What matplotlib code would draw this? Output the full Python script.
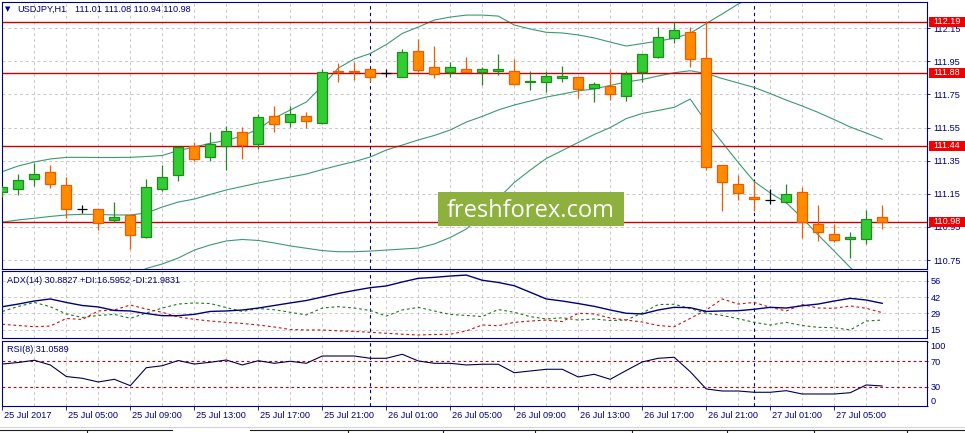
"""USDJPY H1 chart in MetaTrader style: candles + Bollinger, ADX(14) and RSI(8) panes."""
import numpy as np
import matplotlib
matplotlib.use("Agg")
import matplotlib.pyplot as plt
import matplotlib.transforms as mtransforms
from matplotlib.patches import Rectangle
from matplotlib.lines import Line2D

plt.rcParams.update({
    "font.family": "Liberation Sans",
    "font.size": 6.6,
    "axes.linewidth": 0.8,
})

# ------------------------------------------------------------------
# data: hourly bars, 25 Jul 2017 01:00 .. 27 Jul 08:00
# ------------------------------------------------------------------
opens = [111.159, 111.177, 111.237, 111.281, 111.201, 111.056, 111.056, 110.990, 111.020, 110.888,
         111.177, 111.261, 111.440, 111.370, 111.440, 111.521, 111.449, 111.618, 111.581, 111.618,
         111.579, 111.889, 111.890, 111.902, 111.877, 111.857, 112.010, 111.914, 111.883, 111.902,
         111.883, 111.889, 111.891, 111.823, 111.823, 111.851, 111.853, 111.790, 111.801, 111.738,
         111.883, 111.978, 112.092, 112.129, 111.972, 111.322, 111.209, 111.129, 111.112, 111.098,
         111.159, 110.966, 110.905, 110.875, 110.875, 111.010]
highs = [111.197, 111.269, 111.334, 111.324, 111.251, 111.080, 111.058, 111.100, 111.022, 111.239,
         111.324, 111.435, 111.461, 111.523, 111.559, 111.551, 111.632, 111.678, 111.678, 111.642,
         111.903, 111.938, 111.947, 111.905, 111.903, 112.024, 112.085, 112.042, 111.946, 111.976,
         111.915, 111.994, 111.964, 111.891, 111.891, 111.921, 111.855, 111.825, 111.903, 111.889,
         111.994, 112.155, 112.187, 112.155, 112.195, 111.322, 111.265, 111.225, 111.177, 111.209,
         111.189, 111.082, 110.967, 110.919, 111.050, 111.080]
lows = [111.132, 111.143, 111.199, 111.187, 111.005, 111.032, 110.933, 110.979, 110.815, 110.885,
        111.168, 111.229, 111.350, 111.350, 111.293, 111.358, 111.418, 111.525, 111.553, 111.549,
        111.569, 111.823, 111.837, 111.827, 111.853, 111.853, 111.887, 111.851, 111.857, 111.883,
        111.809, 111.869, 111.809, 111.778, 111.764, 111.827, 111.730, 111.706, 111.718, 111.708,
        111.827, 111.972, 112.062, 111.917, 111.295, 111.048, 111.112, 111.048, 111.086, 111.096,
        110.885, 110.867, 110.857, 110.764, 110.845, 110.940]
closes = [111.189, 111.233, 111.269, 111.207, 111.056, 111.056, 110.976, 111.010, 110.899, 111.189,
          111.249, 111.431, 111.358, 111.449, 111.527, 111.443, 111.612, 111.569, 111.630, 111.588,
          111.883, 111.885, 111.885, 111.857, 111.877, 112.004, 111.899, 111.871, 111.914, 111.887,
          111.902, 111.902, 111.811, 111.831, 111.859, 111.859, 111.781, 111.811, 111.751, 111.871,
          111.992, 112.098, 112.141, 111.962, 111.310, 111.219, 111.156, 111.117, 111.112, 111.149,
          110.979, 110.917, 110.869, 110.887, 110.996, 110.980]

bb_upper = [111.284, 111.318, 111.342, 111.360, 111.370, 111.370, 111.369, 111.369, 111.370, 111.375,
            111.381, 111.411, 111.432, 111.455, 111.472, 111.499, 111.541, 111.607, 111.656, 111.704,
            111.801, 111.909, 111.964, 111.997, 112.051, 112.118, 112.157, 112.199, 112.217, 112.229,
            112.229, 112.223, 112.169, 112.145, 112.125, 112.121, 112.109, 112.091, 112.066, 112.042,
            112.057, 112.072, 112.089, 112.119, 112.178, 112.236, 112.296, 112.34, 112.37, 112.39,
            112.40, 112.41, 112.41, 112.40, 112.39, 112.38]
bb_mid = [110.979, 110.992, 111.002, 111.013, 111.022, 111.026, 111.025, 111.022, 111.022, 111.034,
          111.070, 111.100, 111.118, 111.146, 111.173, 111.194, 111.215, 111.233, 111.251, 111.269,
          111.296, 111.321, 111.344, 111.372, 111.414, 111.444, 111.475, 111.502, 111.535, 111.583,
          111.617, 111.656, 111.686, 111.710, 111.734, 111.752, 111.771, 111.783, 111.804, 111.825,
          111.840, 111.861, 111.881, 111.893, 111.876, 111.846, 111.819, 111.792, 111.755, 111.716,
          111.680, 111.641, 111.598, 111.553, 111.517, 111.479]
bb_lower = [np.nan] * 8 + [
            110.653, 110.699, 110.726, 110.762, 110.810, 110.841, 110.865, 110.874, 110.868, 110.853,
            110.835, 110.821, 110.807, 110.800, 110.800, 110.804, 110.810, 110.816, 110.822, 110.847,
            110.886, 110.937, 111.022, 111.121, 111.218, 111.293, 111.363, 111.411, 111.460, 111.508,
            111.550, 111.604, 111.635, 111.653, 111.672, 111.722, 111.583, 111.460, 111.339, 111.224,
            111.155, 111.096, 111.004, 110.901, 110.804, 110.705, 110.611, 110.527]

adx = [34.7, 36.9, 39.4, 41.1, 38.2, 35.7, 34.5, 31.6, 31.2, 29.1,
       27.3, 27.3, 28.4, 30.8, 31.2, 32.0, 33.6, 35.7, 37.8, 39.8,
       42.7, 45.6, 48.1, 50.4, 51.8, 55.1, 58.1, 58.9, 60.0, 60.8,
       56.5, 54.7, 52.0, 46.6, 41.1, 39.4, 37.3, 35.0, 32.0, 29.3,
       28.7, 32.0, 34.2, 33.9, 30.8, 31.2, 31.4, 32.6, 34.2, 33.6,
       35.5, 36.9, 39.4, 41.6, 40.2, 37.5]
plus_di = [30.8, 34.9, 38.2, 34.7, 28.7, 25.8, 27.5, 28.4, 25.1, 29.5,
           33.6, 36.9, 37.8, 37.3, 34.0, 30.8, 33.2, 32.2, 30.1, 27.9,
           33.6, 34.7, 33.6, 31.6, 27.0, 32.0, 34.2, 31.2, 28.3, 27.5,
           26.6, 32.4, 30.1, 26.5, 24.6, 25.6, 23.7, 24.6, 23.3, 23.7,
           29.5, 36.5, 36.7, 33.2, 29.3, 27.5, 24.8, 21.8, 19.6, 21.8,
           19.2, 17.7, 17.4, 15.5, 22.9, 23.7]
minus_di = [20.2, 19.2, 18.2, 18.8, 25.0, 24.2, 31.2, 32.0, 36.1, 32.8,
            30.1, 26.2, 24.3, 22.9, 21.8, 20.9, 19.6, 18.0, 15.9, 15.5,
            15.5, 14.8, 14.3, 13.6, 12.8, 12.0, 11.4, 11.8, 12.0, 14.7,
            19.6, 19.0, 21.8, 22.9, 23.7, 22.5, 29.3, 28.7, 25.4, 23.7,
            22.1, 19.2, 18.2, 25.1, 32.0, 41.1, 36.9, 38.2, 34.2, 31.2,
            36.5, 33.6, 33.4, 35.3, 33.4, 29.8]
rsi = [65.8, 68.2, 71.7, 64.3, 46.1, 43.3, 37.5, 41.7, 31.7, 60.0,
       63.1, 71.3, 65.8, 68.5, 72.1, 64.3, 71.0, 66.9, 70.1, 66.9,
       78.4, 78.4, 78.4, 74.8, 74.8, 81.1, 70.6, 66.9, 66.9, 64.3,
       65.4, 65.4, 52.1, 54.8, 57.5, 57.5, 45.4, 49.6, 41.7, 55.6,
       69.0, 74.8, 76.4, 53.7, 26.5, 23.3, 23.3, 21.3, 21.3, 23.8,
       18.6, 18.6, 18.6, 20.6, 32.8, 31.2]

levels = [112.19, 111.88, 111.44, 110.98]
price_ticks = [110.75, 110.95, 111.15, 111.35, 111.55, 111.75, 111.95, 112.15]
adx_ticks = [15.5, 29.1, 42.7, 56.3]
adx_tick_labels = ["15", "29", "42", "56"]
rsi_levels = [70, 30]
rsi_ticks = [0, 30, 70, 100]
time_labels = ["25 Jul 2017", "25 Jul 05:00", "25 Jul 09:00", "25 Jul 13:00", "25 Jul 17:00",
               "25 Jul 21:00", "26 Jul 01:00", "26 Jul 05:00", "26 Jul 09:00", "26 Jul 13:00",
               "26 Jul 17:00", "26 Jul 21:00", "27 Jul 01:00", "27 Jul 05:00"]
time_label_bars = list(range(0, 56, 4))
day_breaks = [23, 47]          # 26 Jul 00:00, 27 Jul 00:00
symbol = "USDJPY,H1"
ohlc_text = "111.01 111.08 110.94 110.98"
adx_title = "ADX(14) 30.8827 +DI:16.5952 -DI:21.9831"
rsi_title = "RSI(8) 31.0589"

# ------------------------------------------------------------------
W, H = 965, 433
NAVY = "#000080"
BULL_FILL, BULL_EDGE = "#32cd32", "#1e8c1e"
BEAR_FILL, BEAR_EDGE = "#ff8c00", "#f05a00"
BAND = "#3a9a72"
LEVEL = "#cc0000"
GRID = "#c8c8c8"
DASH = (0, (3, 3))


def px_rect(left, top, right, bottom):
    return [left / W, 1 - bottom / H, (right - left) / W, (bottom - top) / H]


def fy(y):
    return 1 - y / H


fig = plt.figure(figsize=(W / 100, H / 100), dpi=100)
fig.patch.set_facecolor("white")
ax = fig.add_axes(px_rect(2, 2, 927, 268.7))
ax_adx = fig.add_axes(px_rect(2, 271, 927, 338))
ax_rsi = fig.add_axes(px_rect(2, 340.5, 927, 406))

bars = np.arange(len(opens))
o, h, l, c = map(np.array, (opens, highs, lows, closes))
XMIN, XMAX = -0.02, 57.8

for a in (ax, ax_adx, ax_rsi):
    a.set_xlim(XMIN, XMAX)
    for s in a.spines.values():
        s.set_color(NAVY)
    for b in range(0, 58, 2):
        a.axvline(b, color=GRID, lw=0.7, ls=DASH, zorder=0)
    for d in day_breaks:
        a.axvline(d, color=NAVY, lw=0.8, ls=DASH, zorder=1)
    a.yaxis.tick_right()

# ---------------- main pane ----------------
ax.set_ylim(110.6975, 112.308)
for p in price_ticks:
    ax.axhline(p, color=GRID, lw=0.7, ls=DASH, zorder=0)
for lv in levels:
    ax.axhline(lv, color=LEVEL, lw=1.0, zorder=2)
for band in (bb_upper, bb_mid, bb_lower):
    ax.plot(bars, band, color=BAND, lw=0.8, zorder=1.5)

up = c > o + 1e-9
dn = c < o - 1e-9
dj = ~(up | dn)
bw = 0.62
ax.vlines(bars[up], l[up], h[up], color=BULL_EDGE, lw=0.9, zorder=3)
ax.bar(bars[up], (c - o)[up], bottom=o[up], width=bw, color=BULL_FILL,
       edgecolor=BULL_EDGE, linewidth=0.9, zorder=4)
ax.vlines(bars[dn], l[dn], h[dn], color=BEAR_EDGE, lw=0.9, zorder=3)
ax.bar(bars[dn], (o - c)[dn], bottom=c[dn], width=bw, color=BEAR_FILL,
       edgecolor=BEAR_EDGE, linewidth=0.9, zorder=4)
ax.vlines(bars[dj], l[dj], h[dj], color="black", lw=0.9, zorder=3)
ax.hlines(c[dj], bars[dj] - bw / 2, bars[dj] + bw / 2, color="black", lw=0.9, zorder=4)

ax.set_xticks([])
ax.set_yticks(price_ticks)
ax.set_yticklabels([f"{p:.2f}" for p in price_ticks])
ax.tick_params(axis="y", direction="out", length=2, width=0.6, colors=NAVY, pad=2.3)

fig.text(8 / W, fy(9.5), "\u25bc", family="DejaVu Sans", fontsize=5, color=NAVY,
         ha="center", va="center")
fig.text(17.3 / W, fy(9.5), symbol, color=NAVY, va="center")
fig.text(75 / W, fy(9.5), ohlc_text, color=NAVY, va="center")

# price tags for the horizontal levels
tag_tr = mtransforms.blended_transform_factory(fig.transFigure, ax.transData)
y0, y1 = ax.get_ylim()
half = (y1 - y0) / 266.7 * 5
for lv in levels:
    fig.add_artist(Rectangle((929 / W, lv - half), (W - 929) / W, 2 * half,
                             transform=tag_tr, facecolor="#f00000", edgecolor="none",
                             zorder=1))
    fig.text(933.3 / W, lv, f"{lv:.2f}", transform=tag_tr, color="white",
             va="center", zorder=3)

# watermark
fig.add_artist(Rectangle((438.3 / W, fy(226)), (624 - 438.3) / W, (226 - 192.3) / H,
                         transform=fig.transFigure, facecolor="#8db03f",
                         edgecolor="none", zorder=2))
fig.text(531 / W, fy(217.3), "freshforex.com", family="Open Sans", fontsize=17,
         color="white", ha="center", va="baseline", zorder=3)

# ---------------- ADX pane ----------------
ax_adx.set_ylim(8.90, 64.14)
for t in adx_ticks:
    ax_adx.axhline(t, color=GRID, lw=0.7, ls=DASH, zorder=0)
ax_adx.plot(bars, adx, color=NAVY, lw=1.0, zorder=3)
ax_adx.plot(bars, plus_di, color="#1a7a1a", lw=0.8, ls=(0, (2.5, 2.5)), zorder=2)
ax_adx.plot(bars, minus_di, color="#cc1010", lw=0.8, ls=(0, (2.5, 2.5)), zorder=2)
ax_adx.set_xticks([])
ax_adx.set_yticks(adx_ticks)
ax_adx.set_yticklabels(adx_tick_labels)
ax_adx.tick_params(axis="y", direction="out", length=1, width=0.6, colors=NAVY, pad=1.7)
fig.text(6.7 / W, fy(280.3), adx_title, color=NAVY, va="center")

# ---------------- RSI pane ----------------
ax_rsi.set_ylim(-0.31, 102.8)
for lv in rsi_levels:
    ax_rsi.axhline(lv, color=LEVEL, lw=0.8, ls=(0, (2.5, 2.5)), zorder=1)
ax_rsi.plot(bars, rsi, color="#000050", lw=0.8, zorder=3)
ax_rsi.set_yticks(rsi_ticks)
ax_rsi.set_yticklabels([str(t) for t in rsi_ticks])
ax_rsi.tick_params(axis="y", direction="out", length=1, width=0.6, colors=NAVY, pad=1.7)
rl = ax_rsi.get_yticklabels()
rl[0].set_va("bottom")
rl[-1].set_va("top")
fig.text(6.7 / W, fy(349.3), rsi_title, color=NAVY, va="center")

ax_rsi.set_xticks(time_label_bars)
ax_rsi.set_xticklabels([])
ax_rsi.tick_params(axis="x", direction="out", length=3, width=0.6, colors=NAVY)
time_tr = mtransforms.blended_transform_factory(ax_rsi.transData, fig.transFigure)
time_tr = time_tr + mtransforms.ScaledTranslation(1.5 / 100, 0, fig.dpi_scale_trans)
for b, txt in zip(time_label_bars, time_labels):
    fig.text(b, fy(415.7), txt, transform=time_tr, color=NAVY, va="center")

# ---------------- bottom tab strip ----------------
fig.add_artist(Line2D([0, 1], [fy(426.5)] * 2, color="#d4d4d4", lw=0.8))
for x0, x1 in [(0, 171.7), (250, 965)]:
    fig.add_artist(Line2D([x0 / W, x1 / W], [fy(429.7)] * 2, color="#202020", lw=0.8))
for x in [87.3, 347.7, 443.3, 535, 631.7, 727.3, 814, 906.7]:
    fig.add_artist(Line2D([x / W] * 2, [fy(429.7), fy(433)], color="#202020", lw=0.8))

fig.savefig("out.png", dpi=100)
